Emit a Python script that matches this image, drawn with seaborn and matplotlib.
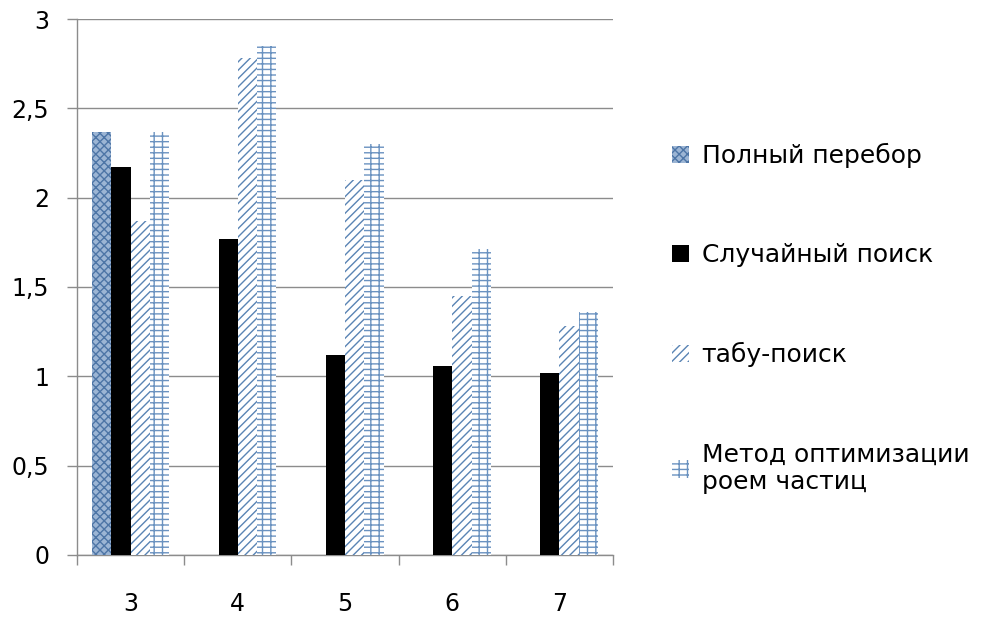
import numpy as np
import pandas as pd
import matplotlib
matplotlib.use("Agg")
import matplotlib.pyplot as plt
from matplotlib.patches import Patch
import seaborn as sns

# values
sizes = ["3", "4", "5", "6", "7"]
methods = ["Полный перебор", "Случайный поиск", "табу-поиск",
           "Метод оптимизации\nроем частиц"]
full_search = [2.37, np.nan, np.nan, np.nan, np.nan]
random_search = [2.17, 1.77, 1.12, 1.06, 1.02]
tabu_search = [1.87, 2.78, 2.10, 1.45, 1.28]
pso = [2.37, 2.85, 2.30, 1.71, 1.36]
y_ticks = [0, 0.5, 1, 1.5, 2, 2.5, 3]
y_tick_labels = ["0", "0,5", "1", "1,5", "2", "2,5", "3"]

sns.set_style("ticks")
plt.rcParams["font.family"] = ["DejaVu Sans"]
plt.rcParams["hatch.linewidth"] = 1.0

df = pd.DataFrame({"n": sizes * 4,
                   "method": np.repeat(methods, len(sizes)),
                   "value": full_search + random_search + tabu_search + pso})

fig = plt.figure(figsize=(9.92, 6.19), dpi=100)
ax = fig.add_axes([0.0776, 0.1034, 0.5404, 0.8659])

sns.barplot(data=df, x="n", y="value", hue="method", hue_order=methods,
            order=sizes, width=0.72, legend=False, ax=ax, zorder=3)

# fill / hatch styles per series
styles = [
    dict(fc="#9cb5d4", ec="#4d75a6", hatch="xxxx"),
    dict(fc="black", ec="black", hatch=None),
    dict(fc="white", ec="#5a84b4", hatch="////"),
    dict(fc="white", ec="#6a92c0", hatch="---||"),
]
for cont, st in zip(ax.containers, styles):
    for p in cont:
        p.set_facecolor(st["fc"])
        p.set_edgecolor(st["ec"])
        p.set_linewidth(0)
        p.set_hatch(st["hatch"])

ax.set_ylim(0, 3)
ax.set_xlim(-0.5, 4.5)
ax.set_yticks(y_ticks)
ax.set_yticklabels(y_tick_labels)
ax.set_xlabel("")
ax.set_ylabel("")

ax.set_xticks(np.arange(-0.5, 5, 1), minor=True)
ax.xaxis.grid(False, which="both")
ax.yaxis.grid(True, color="#8c8c8c", lw=1)
ax.tick_params(axis="x", which="major", length=0, pad=27, labelsize=17,
               labelcolor="black")
ax.tick_params(axis="x", which="minor", bottom=True, length=7,
               color="#8c8c8c", direction="out", width=1)
ax.tick_params(axis="y", left=True, right=False, length=7, color="#8c8c8c",
               direction="out", width=1, pad=13, labelsize=17, labelcolor="black")

handles = [Patch(facecolor=st["fc"], edgecolor=st["ec"], hatch=st["hatch"], linewidth=0)
           for st in styles]
fig.legend(handles=handles, labels=methods, loc="upper left",
           bbox_to_anchor=(0.667, 0.785), frameon=False, borderaxespad=0,
           fontsize=18, labelspacing=3.0, handlelength=0.7, handleheight=0.7,
           handletextpad=0.5, labelcolor="black")

sns.despine(ax=ax, top=True, right=True)
for s in ["left", "bottom"]:
    ax.spines[s].set_color("#8c8c8c")
    ax.spines[s].set_linewidth(1)

fig.savefig("out.png", dpi=100)
